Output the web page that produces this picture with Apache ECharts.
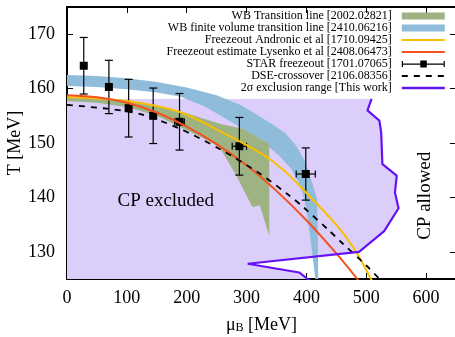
<!DOCTYPE html>
<html>
<head>
<meta charset="utf-8">
<script src="https://cdn.jsdelivr.net/npm/echarts@6/dist/echarts.min.js"></script>
<style>
  html, body { margin: 0; padding: 0; background: #fff; }
  #chart { width: 455px; height: 337px; }
</style>
</head>
<body>
<div id="chart"></div>
<script>
// axis ticks
const xTicks = [0, 100, 200, 300, 400, 500, 600];
const yTicks = [130, 140, 150, 160, 170];

// STAR freezeout points (muB, T, dT, dmuB)
const starMu = [28, 70, 103, 144, 188, 288, 399];
const starT = [164.2, 160.3, 156.4, 155.0, 153.9, 149.4, 144.3];
const starTErr = [5.2, 4.9, 5.3, 5.1, 5.2, 5.3, 4.8];
const starMuErr = [5, 5, 5, 6, 8, 12, 16];

// freezeout / crossover curves [muB, T]
const andronic = [[0, 158.4], [50, 158.2], [100, 157.7], [150, 156.8], [188, 155.7], [220, 154.2], [255, 152.2],
  [300, 149.6], [338, 147.1], [372, 144.0], [400, 140.8], [430, 137.4], [455, 134.3], [483, 130.0], [508, 125.0], [525, 121.5]];
const lysenko = [[0, 158.8], [50, 158.4], [100, 157.4], [150, 155.6], [200, 153.0], [250, 149.8], [300, 145.9],
  [350, 141.2], [400, 135.8], [450, 129.7], [485, 125.0], [510, 121.4]];
const dse = [[0, 157.0], [67, 156.3], [123, 155.3], [187, 152.7], [255, 148.9], [322, 144.4], [372, 140.3],
  [394, 138.3], [438, 133.9], [458, 131.8], [502, 127.3], [522, 125.0], [540, 122.8]];

// WB bands: upper and lower edges
const wbUpper = [[0, 158.5], [100, 157.9], [188, 155.9], [230, 154.4], [260, 153.4], [294, 152.6], [315, 151.3],
  [327, 150.4], [338, 149.9]];
const wbLower = [[0, 157.7], [50, 157.4], [100, 156.6], [150, 155.0], [188, 153.0], [225, 151.0], [255, 149.2],
  [283, 144.0], [310, 138.2], [322, 138.6], [338, 132.9]];
const fvUpper = [[0, 162.5], [50, 162.3], [100, 161.9], [150, 161.2], [200, 160.2], [250, 158.8], [290, 157.0],
  [320, 155.0], [345, 153.3], [365, 151.8], [383, 149.5], [397, 146.8], [406, 144.0], [413, 141.5], [418, 139.5], [420, 125.0]];
const fvLower = [[0, 160.5], [50, 160.3], [100, 159.9], [150, 159.3], [190, 158.5], [230, 156.7], [265, 154.5],
  [297, 152.4], [330, 150.0], [355, 147.6], [375, 145.2], [388, 142.6], [397, 139.5], [403, 135.5], [409, 130.5], [415, 125.0]];

// 2 sigma exclusion boundary
const exclusion = [[509, 158.1], [502, 156.0], [522, 154.1], [525, 151.9], [527, 146.1], [551, 144.0], [548, 140.9],
  [554, 138.0], [530, 133.8], [488, 130.0], [302, 127.8], [388, 126.2], [402, 125.0], [410, 124.2]];
const exclFill = [[0, 125], [0, 158.1]].concat(exclusion.slice(0, 13));

const notes = [
  { text: 'CP excluded', mu: 165, T: 139.3, rot: 0 },
  { text: 'CP allowed', mu: 598, T: 140.3, rot: Math.PI / 2 }
];

const SERIF = '"Liberation Serif", "DejaVu Serif", serif';

function band(name, pts, color) {
  return {
    name: name,
    type: 'custom',
    data: pts,
    silent: true,
    itemStyle: { color: color },
    renderItem: function (params, api) {
      if (params.dataIndex !== 0) return null;
      return {
        type: 'polygon',
        shape: { points: pts.map(function (p) { return api.coord(p); }) },
        style: { fill: color }
      };
    }
  };
}

function line(name, pts, color, width, type) {
  return {
    name: name,
    type: 'line',
    data: pts,
    symbol: 'none',
    smooth: type === 'poly' ? false : 0.3,
    lineStyle: { color: color, width: width, type: type === 'poly' ? 'solid' : (type || 'solid') },
    itemStyle: { color: color }
  };
}

function tickAxis(pos, isX, show) {
  const vals = isX ? xTicks : yTicks;
  return {
    type: 'value',
    position: pos,
    min: isX ? 0 : 125,
    max: isX ? 650 : 175,
    axisLine: { show: true, onZero: false, lineStyle: { color: '#000', width: 2 } },
    axisTick: { show: true, inside: true, length: 6, customValues: vals, lineStyle: { color: '#000', width: 1 } },
    axisLabel: {
      show: show, customValues: vals, color: '#000', fontFamily: SERIF, fontSize: 18,
      margin: isX ? 10 : 12
    },
    splitLine: { show: false }
  };
}

const xBottom = tickAxis('bottom', true, true);
xBottom.name = '{mu|μ}{sub|B}{n| [MeV]}';
xBottom.nameLocation = 'middle';
xBottom.nameGap = 37;
xBottom.nameMoveOverlap = false;
xBottom.nameTextStyle = {
  color: '#000', fontFamily: SERIF, fontSize: 18,
  rich: {
    mu: { fontFamily: SERIF, fontSize: 18, lineHeight: 18, color: '#000' },
    sub: { fontFamily: SERIF, fontSize: 12, lineHeight: 7, verticalAlign: 'bottom', color: '#000' },
    n: { fontFamily: SERIF, fontSize: 18, lineHeight: 18, color: '#000' }
  }
};
const yLeft = tickAxis('left', false, true);
yLeft.name = 'T [MeV]';
yLeft.nameLocation = 'middle';
yLeft.nameGap = 43;
yLeft.nameMoveOverlap = false;
yLeft.nameTextStyle = { color: '#000', fontFamily: SERIF, fontSize: 18 };

const hideDot = { opacity: 0 };

const chart = echarts.init(document.getElementById('chart'));
chart.setOption({
  animation: false,
  backgroundColor: '#fff',
  grid: { left: 67, right: -1, top: 7, bottom: 58, containLabel: false, outerBoundsMode: 'none' },
  xAxis: [xBottom, tickAxis('top', true, false)],
  yAxis: [yLeft, tickAxis('right', false, false)],
  legend: {
    orient: 'vertical',
    align: 'right',
    right: 9,
    top: 10,
    padding: 0,
    itemGap: 0,
    itemWidth: 43,
    itemHeight: 7,
    selectedMode: false,
    textStyle: { color: '#000', fontFamily: SERIF, fontSize: 12, lineHeight: 11.8, padding: [0, 5, 0, 0] },
    data: [
      { name: 'WB Transition line [2002.02821]', icon: 'rect', itemStyle: { color: '#9db383' } },
      { name: 'WB finite volume transition line [2410.06216]', icon: 'rect', itemStyle: { color: '#8fbcdb' } },
      { name: 'Freezeout Andronic et al [1710.09425]', itemStyle: hideDot, lineStyle: { width: 2.2 } },
      { name: 'Freezeout estimate Lysenko et al [2408.06473]', itemStyle: hideDot, lineStyle: { width: 2.2 } },
      { name: 'STAR freezeout [1701.07065]', icon: 'path://M0,3H43V4.2H0Z M0,0.5H1.2V6.5H0Z M41.8,0.5H43V6.5H41.8Z M18.5,0H25V7H18.5Z', itemStyle: { color: '#000' } },
      { name: 'DSE-crossover [2106.08356]', itemStyle: hideDot, lineStyle: { width: 2 } },
      { name: '2σ exclusion range [This work]', itemStyle: hideDot, lineStyle: { width: 2.4 } }
    ]
  },
  series: [
    band('exclusion fill', exclFill, '#dccefa'),
    band('WB finite volume transition line [2410.06216]', fvUpper.concat(fvLower.slice().reverse()), '#8fbcdb'),
    band('WB Transition line [2002.02821]', wbUpper.concat(wbLower.slice().reverse()), '#9db383'),
    line('Freezeout Andronic et al [1710.09425]', andronic, '#fbbf00', 2),
    line('Freezeout estimate Lysenko et al [2408.06473]', lysenko, '#f4511e', 2),
    line('DSE-crossover [2106.08356]', dse, '#000', 1.8, [6, 6]),
    line('2σ exclusion range [This work]', exclusion, '#6412f5', 2.2, 'poly'),
    {
      name: 'STAR freezeout [1701.07065]',
      type: 'custom',
      data: starMu.map(function (m, i) { return [m, starT[i], starTErr[i], starMuErr[i]]; }),
      itemStyle: { color: '#000' },
      renderItem: function (params, api) {
        const m = api.value(0), t = api.value(1), dt = api.value(2), dm = api.value(3);
        const c = api.coord([m, t]);
        const top = api.coord([m, t + dt]), bot = api.coord([m, t - dt]);
        const lft = api.coord([m - dm, t]), rgt = api.coord([m + dm, t]);
        const st = { stroke: '#000', lineWidth: 1.2 };
        const kids = [
          { type: 'line', shape: { x1: c[0], y1: top[1], x2: c[0], y2: bot[1] }, style: st },
          { type: 'line', shape: { x1: c[0] - 4, y1: top[1], x2: c[0] + 4, y2: top[1] }, style: st },
          { type: 'line', shape: { x1: c[0] - 4, y1: bot[1], x2: c[0] + 4, y2: bot[1] }, style: st }
        ];
        if (rgt[0] - c[0] > 4.5) {
          kids.push(
            { type: 'line', shape: { x1: lft[0], y1: c[1], x2: rgt[0], y2: c[1] }, style: st },
            { type: 'line', shape: { x1: lft[0], y1: c[1] - 3.5, x2: lft[0], y2: c[1] + 3.5 }, style: st },
            { type: 'line', shape: { x1: rgt[0], y1: c[1] - 3.5, x2: rgt[0], y2: c[1] + 3.5 }, style: st }
          );
        }
        kids.push({ type: 'rect', shape: { x: c[0] - 4, y: c[1] - 4, width: 8, height: 8 }, style: { fill: '#000' } });
        return { type: 'group', children: kids };
      }
    },
    {
      name: 'notes',
      type: 'custom',
      silent: true,
      data: notes.map(function (n) { return [n.mu, n.T]; }),
      renderItem: function (params, api) {
        const n = notes[params.dataIndex];
        const p = api.coord([api.value(0), api.value(1)]);
        return {
          type: 'text', x: p[0], y: p[1], rotation: n.rot,
          style: { text: n.text, fill: '#000', font: '19px ' + SERIF, align: 'center', verticalAlign: 'middle' }
        };
      }
    }
  ]
});
</script>
</body>
</html>
